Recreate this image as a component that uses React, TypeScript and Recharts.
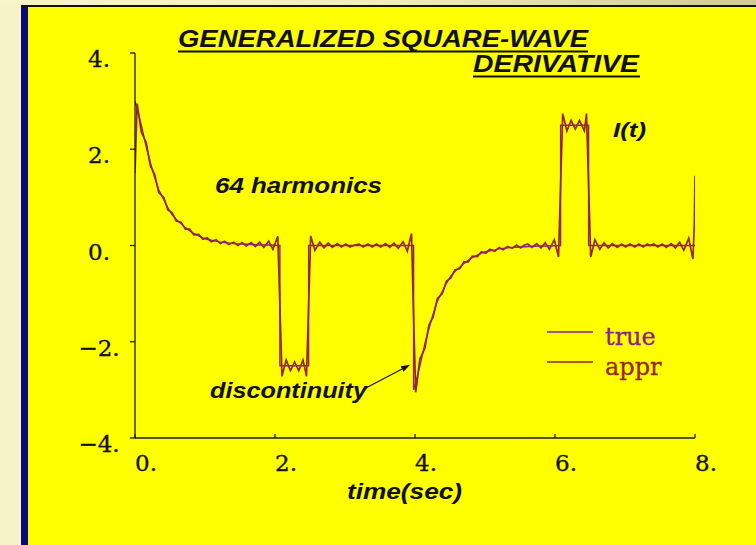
import React from 'react';
import { LineChart, Line, XAxis, YAxis, ReferenceLine, Legend } from 'recharts';

// ---------- data ----------
const xTicks = [0, 2, 4, 6, 8];
const xTickLabels = ['0.', '2.', '4.', '6.', '8.'];
const yTicks = [-4, -2, 0, 2, 4];
const yTickLabels = ['\u22124.', '\u22122.', '0.', '2.', '4.'];

const seriesNames = ['true', 'appr'];

const trueTime = [
  0, 0.03, 0.09, 0.16, 0.22, 0.28, 0.34, 0.41, 0.47, 0.53, 0.59, 0.66, 0.72, 0.78,
  0.84, 0.91, 0.97, 1.03, 1.09, 1.16, 1.22, 1.28, 1.41, 1.53, 1.66, 1.78, 1.91, 2.07,
  2.07, 2.48,
  2.48, 3.98,
  3.98, 4.01, 4.07, 4.14, 4.2, 4.26, 4.32, 4.39, 4.45, 4.51, 4.57, 4.64, 4.7, 4.76,
  4.82, 4.89, 4.95, 5.01, 5.07, 5.14, 5.2, 5.26, 5.39, 5.51, 5.64, 5.76, 5.89, 6.08,
  6.08, 6.48,
  6.48, 8.0,
];
const trueValue = [
  3.0, 2.85, 2.5, 2.05, 1.72, 1.42, 1.15, 0.96, 0.78, 0.64, 0.54, 0.45, 0.37, 0.31,
  0.25, 0.2, 0.16, 0.13, 0.11, 0.09, 0.07, 0.06, 0.04, 0.03, 0.02, 0.01, 0.01, 0.0,
  -2.5, -2.5,
  0.0, 0.0,
  -3.0, -2.85, -2.5, -2.05, -1.72, -1.42, -1.15, -0.96, -0.78, -0.64, -0.54, -0.45, -0.37, -0.31,
  -0.25, -0.2, -0.16, -0.13, -0.11, -0.09, -0.07, -0.06, -0.04, -0.03, -0.02, -0.01, -0.01, 0.0,
  2.5, 2.5,
  0.0, 0.0,
];

const apprTime = [
  0, 0.03, 0.09, 0.16, 0.22, 0.28, 0.34, 0.41, 0.47, 0.53, 0.59, 0.66, 0.72, 0.78, 0.84,
  0.91, 0.97, 1.03, 1.09, 1.16, 1.22, 1.28, 1.34, 1.41, 1.47, 1.53, 1.59, 1.66, 1.72, 1.78,
  1.84, 1.91, 1.97, 2.04, 2.07,
  2.1, 2.16, 2.22, 2.28, 2.34, 2.4, 2.45, 2.48,
  2.51, 2.57, 2.64, 2.7, 2.76, 2.82, 2.89, 2.95, 3.01, 3.07, 3.14, 3.2, 3.26, 3.33, 3.39,
  3.45, 3.51, 3.58, 3.64, 3.7, 3.76, 3.83, 3.89, 3.95, 3.98,
  4.01, 4.07, 4.14, 4.2, 4.26, 4.32, 4.39, 4.45, 4.51, 4.57, 4.64, 4.7, 4.76, 4.82, 4.89,
  4.95, 5.01, 5.07, 5.14, 5.2, 5.26, 5.32, 5.39, 5.45, 5.51, 5.55, 5.61, 5.67, 5.74, 5.8,
  5.86, 5.92, 5.99, 6.05, 6.08,
  6.11, 6.17, 6.23, 6.29, 6.35, 6.42, 6.45, 6.48,
  6.51, 6.57, 6.64, 6.7, 6.76, 6.82, 6.89, 6.95, 7.01, 7.07, 7.14, 7.2, 7.26, 7.32, 7.36,
  7.41, 7.47, 7.53, 7.59, 7.66, 7.72, 7.78, 7.84, 7.91, 7.97, 7.99, 8.0,
];
const apprValue = [
  1.5, 2.95, 2.36, 2.14, 1.65, 1.48, 1.1, 1.0, 0.74, 0.68, 0.51, 0.48, 0.34, 0.34, 0.22,
  0.23, 0.13, 0.16, 0.08, 0.12, 0.04, 0.09, 0.02, 0.07, 0.0, 0.06, -0.01, 0.06, -0.02, 0.07,
  -0.04, 0.09, -0.08, 0.19, -1.25,
  -2.72, -2.38, -2.6, -2.42, -2.6, -2.38, -2.72, -1.25,
  0.2, -0.1, 0.07, -0.05, 0.05, -0.04, 0.04, -0.03, 0.03, -0.03, 0.01, 0.03, -0.03, 0.03, -0.03,
  0.03, -0.03, 0.04, -0.04, 0.05, -0.06, 0.08, -0.12, 0.25, -1.5,
  -3.05, -2.36, -2.14, -1.65, -1.48, -1.1, -1.0, -0.74, -0.68, -0.51, -0.48, -0.34, -0.34, -0.22, -0.23,
  -0.13, -0.16, -0.08, -0.12, -0.04, -0.09, -0.02, -0.06, 0.01, -0.05, 0.0, 0.03, -0.04, 0.04, -0.05,
  0.06, -0.08, 0.12, -0.24, 1.25,
  2.74, 2.38, 2.6, 2.42, 2.6, 2.38, 2.74, 1.25,
  -0.24, 0.12, -0.08, 0.06, -0.05, 0.04, -0.04, 0.03, -0.03, 0.03, -0.03, 0.03, -0.03, 0.03, 0.0,
  0.03, -0.03, 0.03, -0.04, 0.04, -0.05, 0.07, -0.1, 0.15, -0.28, 0.42, 1.45,
];

// annotation arrow (data coordinates)
const arrowFrom = { t: 3.27, v: -2.98 };
const arrowTo = { t: 3.93, v: -2.48 };

// ---------- styles ----------
const TRUE_COLOR = '#8c1f8c';
const APPR_COLOR = '#9a2600';
const seriesColors = [TRUE_COLOR, APPR_COLOR];
const AXIS_COLOR = '#1a1a1a';
const SERIF = '"DejaVu Serif", serif';
const SANS = '"Liberation Sans", Arial, sans-serif';

const trueData = trueTime.map((t, i) => ({ t, v: trueValue[i] }));
const apprData = apprTime.map((t, i) => ({ t, v: apprValue[i] }));

const XTick = (props: any) => {
  const { x, y, payload } = props;
  const idx = xTicks.indexOf(payload.value);
  return (
    <g>
      <line x1={x} x2={x} y1={y} y2={y - 4} stroke={AXIS_COLOR} strokeWidth={1.3} />
      <text x={x} y={y + 33} textAnchor="start" fontFamily={SERIF} fontSize={23} fill="#111" stroke="#111" strokeWidth={0.35}>
        {xTickLabels[idx]}
      </text>
    </g>
  );
};

const YTick = (props: any) => {
  const { x, y, payload } = props;
  const idx = yTicks.indexOf(payload.value);
  return (
    <text x={x - 31} y={y + 14} textAnchor="middle" fontFamily={SERIF} fontSize={23} fill="#111" stroke="#111" strokeWidth={0.35}>
      {yTickLabels[idx]}
    </text>
  );
};

const ArrowShape = (props: any) => {
  const { x1, y1, x2, y2 } = props;
  if ([x1, y1, x2, y2].some((n) => typeof n !== 'number' || isNaN(n))) return null;
  const ang = Math.atan2(y2 - y1, x2 - x1);
  const L = 9;
  const W = 3.2;
  const bx = x2 - L * Math.cos(ang);
  const by = y2 - L * Math.sin(ang);
  const px = -Math.sin(ang) * W;
  const py = Math.cos(ang) * W;
  return (
    <g>
      <line x1={x1} y1={y1} x2={bx} y2={by} stroke="#111" strokeWidth={1.1} />
      <polygon points={`${x2},${y2} ${bx + px},${by + py} ${bx - px},${by - py}`} fill="#111" />
    </g>
  );
};

const LegendContent = () => (
  <svg width={140} height={70} style={{ display: 'block' }}>
    {seriesNames.map((name, i) => (
      <g key={name}>
        <line x1={7} x2={53} y1={17 + i * 30} y2={17 + i * 30} stroke={seriesColors[i]} strokeWidth={1.7} />
        <text x={65} y={30 + i * 30} fontFamily={SERIF} fontSize={24} fill={seriesColors[i]} stroke={seriesColors[i]} strokeWidth={0.3}>
          {name}
        </text>
      </g>
    ))}
  </svg>
);

const textStyle = {
  fontFamily: SANS,
  fontWeight: 'bold' as const,
  fontStyle: 'italic' as const,
  fill: '#111',
};

export default function App() {
  return (
    <div style={{ position: 'absolute', left: 0, top: 0, width: 756, height: 545, overflow: 'hidden' }}>
      {/* slide background */}
      <div style={{ position: 'absolute', left: 0, top: 0, width: 756, height: 545, background: 'linear-gradient(90deg, #f7f5c8 0%, #f1eebc 50%, #cfcb96 100%)' }} />
      <div style={{ position: 'absolute', left: 0, top: 5, width: 21, height: 540, background: '#f6f4c6' }} />
      <div style={{ position: 'absolute', left: 21, top: 5, width: 735, height: 2, background: '#111' }} />
      <div style={{ position: 'absolute', left: 21, top: 7, width: 7, height: 538, background: '#0a0a78' }} />
      <div style={{ position: 'absolute', left: 28, top: 7, width: 728, height: 538, background: '#ffff00' }} />

      <div style={{ position: 'absolute', left: 0, top: 0 }}>
        <LineChart width={756} height={545} margin={{ top: 53, right: 61, bottom: 67, left: 75 }}>
          <XAxis
            dataKey="t"
            type="number"
            domain={[0, 8]}
            ticks={xTicks}
            allowDataOverflow
            height={40}
            tickSize={0}
            tickMargin={0}
            tickLine={false}
            tick={XTick}
            axisLine={{ stroke: AXIS_COLOR, strokeWidth: 1.3 }}
            interval={0}
          />
          <YAxis
            dataKey="v"
            type="number"
            domain={[-4, 4]}
            ticks={yTicks}
            allowDataOverflow
            width={60}
            tickSize={5}
            tickMargin={0}
            tickLine={{ stroke: AXIS_COLOR, strokeWidth: 1.3 }}
            tick={YTick}
            axisLine={{ stroke: AXIS_COLOR, strokeWidth: 1.3 }}
            interval={0}
          />
          <Legend
            layout="horizontal"
            verticalAlign="middle"
            align="center"
            content={LegendContent}
            wrapperStyle={{ left: 540, top: 315, width: 140, height: 70 }}
          />
          <Line
            name="appr"
            data={apprData}
            dataKey="v"
            type="linear"
            stroke={APPR_COLOR}
            strokeWidth={1.7}
            dot={false}
            isAnimationActive={false}
          />
          <Line
            name="true"
            data={trueData}
            dataKey="v"
            type="linear"
            stroke={TRUE_COLOR}
            strokeWidth={1.4}
            dot={false}
            isAnimationActive={false}
          />
          <ReferenceLine
            segment={[
              { x: arrowFrom.t, y: arrowFrom.v },
              { x: arrowTo.t, y: arrowTo.v },
            ]}
            shape={ArrowShape}
            ifOverflow="visible"
          />
        </LineChart>
      </div>

      {/* titles and annotations */}
      <svg width={756} height={545} style={{ position: 'absolute', left: 0, top: 0, pointerEvents: 'none' }}>
        <text x={178} y={47} fontSize={24} textLength={410} lengthAdjust="spacingAndGlyphs" {...textStyle}>
          GENERALIZED SQUARE-WAVE
        </text>
        <line x1={178} x2={588} y1={51.5} y2={51.5} stroke="#111" strokeWidth={1.8} />
        <text x={473} y={72} fontSize={24} textLength={166} lengthAdjust="spacingAndGlyphs" {...textStyle}>
          DERIVATIVE
        </text>
        <line x1={473} x2={640} y1={76.5} y2={76.5} stroke="#111" strokeWidth={1.8} />
        <text x={613} y={137} fontSize={21} textLength={33} lengthAdjust="spacingAndGlyphs" {...textStyle}>
          I(t)
        </text>
        <text x={215} y={193} fontSize={22} textLength={167} lengthAdjust="spacingAndGlyphs" {...textStyle}>
          64 harmonics
        </text>
        <text x={210} y={398} fontSize={22} textLength={157} lengthAdjust="spacingAndGlyphs" {...textStyle}>
          discontinuity
        </text>
        <text x={347} y={499} fontSize={22} textLength={115} lengthAdjust="spacingAndGlyphs" {...textStyle}>
          time(sec)
        </text>
      </svg>
    </div>
  );
}
